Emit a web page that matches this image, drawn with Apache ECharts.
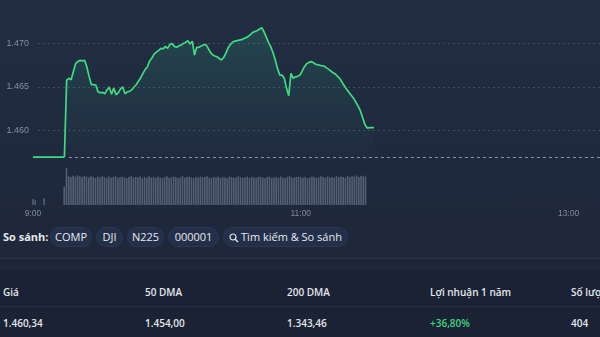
<!DOCTYPE html>
<html>
<head>
<meta charset="utf-8">
<script src="https://cdn.jsdelivr.net/npm/echarts@6/dist/echarts.min.js"></script>
<style>
  html, body { margin: 0; padding: 0; width: 600px; height: 337px; overflow: hidden;
    background: #1b2233; font-family: "Open Sans", "Noto Sans", sans-serif; }
  #chart { position: absolute; left: 0; top: 0; width: 600px; height: 222px;
    background: linear-gradient(#222d43, #1f283b); }
  .compare { position: absolute; left: 0; top: 222px; width: 600px; height: 36px; background: #1f283b; }
  .compare .lbl { position: absolute; left: 3px; top: 7px; font-size: 11px; font-weight: 700; color: #e6e9ef; }
  .chip { position: absolute; top: 5px; height: 18px; line-height: 18px; border-radius: 10px;
    background: #243049; border: 1px solid #2c3852; color: #e6e9ef; font-size: 11px; text-align: center; }
  .chip svg { vertical-align: -2px; margin-right: 2px; }
  .sep { position: absolute; left: 0; top: 258px; width: 600px; height: 1px; background: #2b354a; }
  .band { position: absolute; left: 0; top: 259px; width: 600px; height: 11px; background: #1d2536; }
  .table { position: absolute; left: 0; top: 270px; width: 600px; height: 67px; background: #1b2233; }
  .cell { position: absolute; font-size: 10px; font-weight: 600; color: #e3e7ee; white-space: nowrap; }
  .hdr { top: 15px; }
  .val { top: 46px; }
  .rule { position: absolute; left: 0; top: 36px; width: 600px; height: 1px; background: #283247; }
  .up { color: #3dd67f; }
</style>
</head>
<body>
<div id="chart"></div>
<div class="compare">
  <div class="lbl">So sánh:</div>
  <div class="chip" style="left:50px;width:40px">COMP</div>
  <div class="chip" style="left:96px;width:25px">DJI</div>
  <div class="chip" style="left:127px;width:35px">N225</div>
  <div class="chip" style="left:168px;width:49px">000001</div>
  <div class="chip" style="left:223px;width:123px"><svg width="10" height="10" viewBox="0 0 10 10"><circle cx="4" cy="4" r="3" fill="none" stroke="#e6e9ef" stroke-width="1.2"/><line x1="6.2" y1="6.2" x2="9" y2="9" stroke="#e6e9ef" stroke-width="1.3"/></svg>Tìm kiếm &amp; So sánh</div>
</div>
<div class="sep"></div>
<div class="band"></div>
<div class="table">
  <div class="rule"></div>
</div>
<script>
// Intraday session, minutes after 9:00
const openMinutes = [0, 14];
const openPrices = [1456.95, 1456.95];

const tradeMinutes = [
  15, 16, 17, 18, 19, 20, 21, 22, 23, 24, 25, 26, 27, 28, 29, 30, 31, 32, 33, 34,
  35, 36, 37, 38, 39, 40, 41, 42, 43, 44, 45, 46, 47, 48, 49, 50, 51, 52, 53, 54,
  55, 56, 57, 58, 59, 60, 61, 62, 63, 64, 65, 66, 67, 68, 69, 70, 71, 72, 73, 74,
  75, 76, 77, 78, 79, 80, 81, 82, 83, 84, 85, 86, 87, 88, 89, 90, 91, 92, 93, 94,
  95, 96, 97, 98, 99, 100, 101, 102, 103, 104, 105, 106, 107, 108, 109, 110, 111, 112, 113, 114,
  115, 116, 117, 118, 119, 120, 121, 122, 123, 124, 125, 126, 127, 128, 129, 130, 131, 132, 133, 134,
  135, 136, 137, 138, 139, 140, 141, 142, 143, 144, 145, 146, 147, 148, 149, 150, 151, 152
];
const tradePrices = [
  1465.78, 1466.00, 1465.83, 1466.78, 1467.67, 1467.94, 1468.06, 1468.00, 1468.06, 1467.33,
  1466.22, 1465.28, 1465.28, 1465.22, 1464.44, 1464.33, 1464.39, 1464.22, 1464.67, 1465.00,
  1464.17, 1464.89, 1464.11, 1464.33, 1464.78, 1465.00, 1464.22, 1464.44, 1464.50, 1464.67,
  1465.00, 1465.26, 1465.67, 1466.06, 1466.56, 1467.00, 1467.33, 1468.00, 1468.33, 1468.78,
  1469.00, 1469.22, 1469.44, 1469.39, 1469.67, 1469.44, 1469.89, 1470.00, 1469.67, 1469.56,
  1469.72, 1469.83, 1470.00, 1470.11, 1470.33, 1469.94, 1470.26, 1468.67, 1469.56, 1469.56,
  1469.70, 1469.83, 1469.89, 1469.50, 1469.00, 1468.72, 1468.56, 1468.48, 1468.28, 1468.11,
  1468.39, 1468.89, 1469.52, 1469.89, 1470.17, 1470.28, 1470.33, 1470.39, 1470.44, 1470.58,
  1470.67, 1470.83, 1471.06, 1471.28, 1471.39, 1471.50, 1471.67, 1471.81, 1471.33, 1470.72,
  1470.11, 1469.61, 1468.94, 1468.11, 1467.11, 1466.37, 1466.37, 1466.00, 1464.89, 1464.00,
  1466.56, 1466.00, 1466.17, 1466.22, 1466.37, 1466.83, 1467.33, 1467.67, 1467.83, 1467.92,
  1467.78, 1467.61, 1467.56, 1467.48, 1467.44, 1467.37, 1467.17, 1467.00, 1466.78, 1466.61,
  1466.44, 1466.17, 1465.89, 1465.44, 1465.06, 1464.67, 1464.33, 1464.00, 1463.67, 1463.22,
  1462.78, 1462.22, 1461.44, 1460.67, 1460.28, 1460.33, 1460.33, 1460.34
];

const previousClose = 1456.95;
const priceTicks = [1460, 1465, 1470];

// Volume per minute (relative units)
const volumeMinutes = [
  0, 1, 5,
  14, 15, 16, 17, 18, 19, 20, 21, 22, 23, 24, 25, 26, 27, 28, 29, 30, 31, 32, 33,
  34, 35, 36, 37, 38, 39, 40, 41, 42, 43, 44, 45, 46, 47, 48, 49, 50, 51, 52, 53,
  54, 55, 56, 57, 58, 59, 60, 61, 62, 63, 64, 65, 66, 67, 68, 69, 70, 71, 72, 73,
  74, 75, 76, 77, 78, 79, 80, 81, 82, 83, 84, 85, 86, 87, 88, 89, 90, 91, 92, 93,
  94, 95, 96, 97, 98, 99, 100, 101, 102, 103, 104, 105, 106, 107, 108, 109, 110, 111, 112, 113,
  114, 115, 116, 117, 118, 119, 120, 121, 122, 123, 124, 125, 126, 127, 128, 129, 130, 131, 132, 133,
  134, 135, 136, 137, 138, 139, 140, 141, 142, 143, 144, 145, 146, 147, 148, 149
];
const volumes = [
  15, 12, 16,
  46, 92, 72, 70, 73, 71, 74, 72, 70, 73, 71, 69, 72, 70, 68, 71, 69, 72, 70, 68,
  71, 69, 70, 72, 68, 70, 71, 69, 67, 70, 72, 68, 70, 69, 71, 67, 70, 68, 72, 69,
  70, 68, 71, 69, 67, 70, 72, 68, 69, 71, 70, 67, 69, 72, 68, 70, 71, 69, 67, 70,
  68, 71, 69, 70, 72, 68, 67, 70, 69, 71, 68, 70, 69, 67, 71, 70, 68, 69, 72, 70,
  68, 69, 71, 67, 70, 69, 68, 71, 70, 69, 67, 70, 71, 68, 69, 70, 68, 71, 69, 67,
  70, 72, 69, 68, 70, 71, 69, 68, 70, 67, 69, 71, 70, 68, 69, 72, 70, 68, 71, 69,
  70, 68, 72, 69, 71, 70, 68, 73, 70, 72, 71, 74, 70, 73, 72, 71
];

const xTickMinutes = [0, 120, 240];
const xTickLabels = ['9:00', '11:00', '13:00'];

const axisMax = 252.75;

function fmtThousands(v) {
  return String(Math.round(v)).replace(/\B(?=(\d{3})+(?!\d))/g, '.');
}

const lineColor = '#3fdc7f';
const gridColor = 'rgba(120,135,160,0.35)';

const chart = echarts.init(document.getElementById('chart'), null, { renderer: 'canvas' });

chart.setOption({
  animation: false,
  backgroundColor: 'transparent',
  grid: [
    { left: 33, width: 567, top: -6, height: 180 },
    { left: 38, width: 562, top: -6, height: 180 },
    { left: 33, width: 567, top: 165, height: 40 }
  ],
  xAxis: [
    { type: 'value', gridIndex: 0, min: 0, max: axisMax, show: false },
    { type: 'value', gridIndex: 1, min: 0, max: axisMax, show: false },
    {
      type: 'value', gridIndex: 2, min: 0, max: axisMax, interval: 120,
      axisLine: { show: false }, axisTick: { show: false }, splitLine: { show: false },
      axisLabel: {
        color: '#808a9b', fontSize: 8.5, margin: 4,
        formatter: v => {
          const i = xTickMinutes.indexOf(v);
          return i >= 0 ? xTickLabels[i] : '';
        }
      }
    }
  ],
  yAxis: [
    {
      type: 'value', gridIndex: 0, min: 1455, max: 1475, interval: 5,
      axisLine: { show: false }, axisTick: { show: false }, splitLine: { show: false },
      axisLabel: {
        color: '#858fa0', fontSize: 9, margin: 4,
        formatter: v => priceTicks.indexOf(v) >= 0 ? fmtThousands(v) : ''
      }
    },
    { type: 'value', gridIndex: 1, min: 1455, max: 1475, show: false },
    { type: 'value', gridIndex: 2, min: 0, max: 100, show: false }
  ],
  series: [
    {
      // dashed price grid lines
      type: 'line', xAxisIndex: 1, yAxisIndex: 1, data: [], silent: true,
      markLine: {
        silent: true, symbol: 'none', label: { show: false },
        lineStyle: { color: gridColor, type: [2, 3], width: 1 },
        data: priceTicks.map(v => ({ yAxis: v }))
      }
    },
    {
      type: 'bar', xAxisIndex: 2, yAxisIndex: 2, barWidth: 1.6,
      itemStyle: { color: 'rgba(140,152,174,0.5)' },
      data: volumeMinutes.map((m, i) => [m, volumes[i]])
    },
    {
      type: 'line', xAxisIndex: 0, yAxisIndex: 0, symbol: 'none',
      lineStyle: { color: lineColor, width: 1.7 },
      data: openMinutes.map((m, i) => [m, openPrices[i]])
    },
    {
      type: 'line', xAxisIndex: 0, yAxisIndex: 0, symbol: 'none',
      lineStyle: { color: lineColor, width: 1.7 },
      areaStyle: {
        color: new echarts.graphic.LinearGradient(0, 0, 0, 1, [
          { offset: 0, color: 'rgba(50,170,130,0.30)' },
          { offset: 0.75, color: 'rgba(40,120,110,0.10)' },
          { offset: 1, color: 'rgba(34,45,67,0)' }
        ])
      },
      data: [[openMinutes[1], openPrices[1]]].concat(tradeMinutes.map((m, i) => [m, tradePrices[i]])),
      markLine: {
        silent: true, symbol: 'none', label: { show: false },
        lineStyle: { color: 'rgba(170,182,200,0.75)', type: [3, 3], width: 1 },
        data: [[{ coord: [16, previousClose] }, { coord: [axisMax, previousClose] }]]
      }
    }
  ]
});

// Key statistics row
const statLabels = ['Giá', '50 DMA', '200 DMA', 'Lợi nhuận 1 năm', 'Số lượng'];
const statValues = ['1.460,34', '1.454,00', '1.343,46', '+36,80%', '404'];
const statLeft = [3, 145, 287, 430, 571];
const table = document.querySelector('.table');
statLabels.forEach((t, i) => {
  const h = document.createElement('div');
  h.className = 'cell hdr';
  h.style.left = statLeft[i] + 'px';
  h.textContent = t;
  table.appendChild(h);
  const v = document.createElement('div');
  v.className = 'cell val' + (statValues[i].startsWith('+') ? ' up' : '');
  v.style.left = statLeft[i] + 'px';
  v.textContent = statValues[i];
  table.appendChild(v);
});
</script>
</body>
</html>
